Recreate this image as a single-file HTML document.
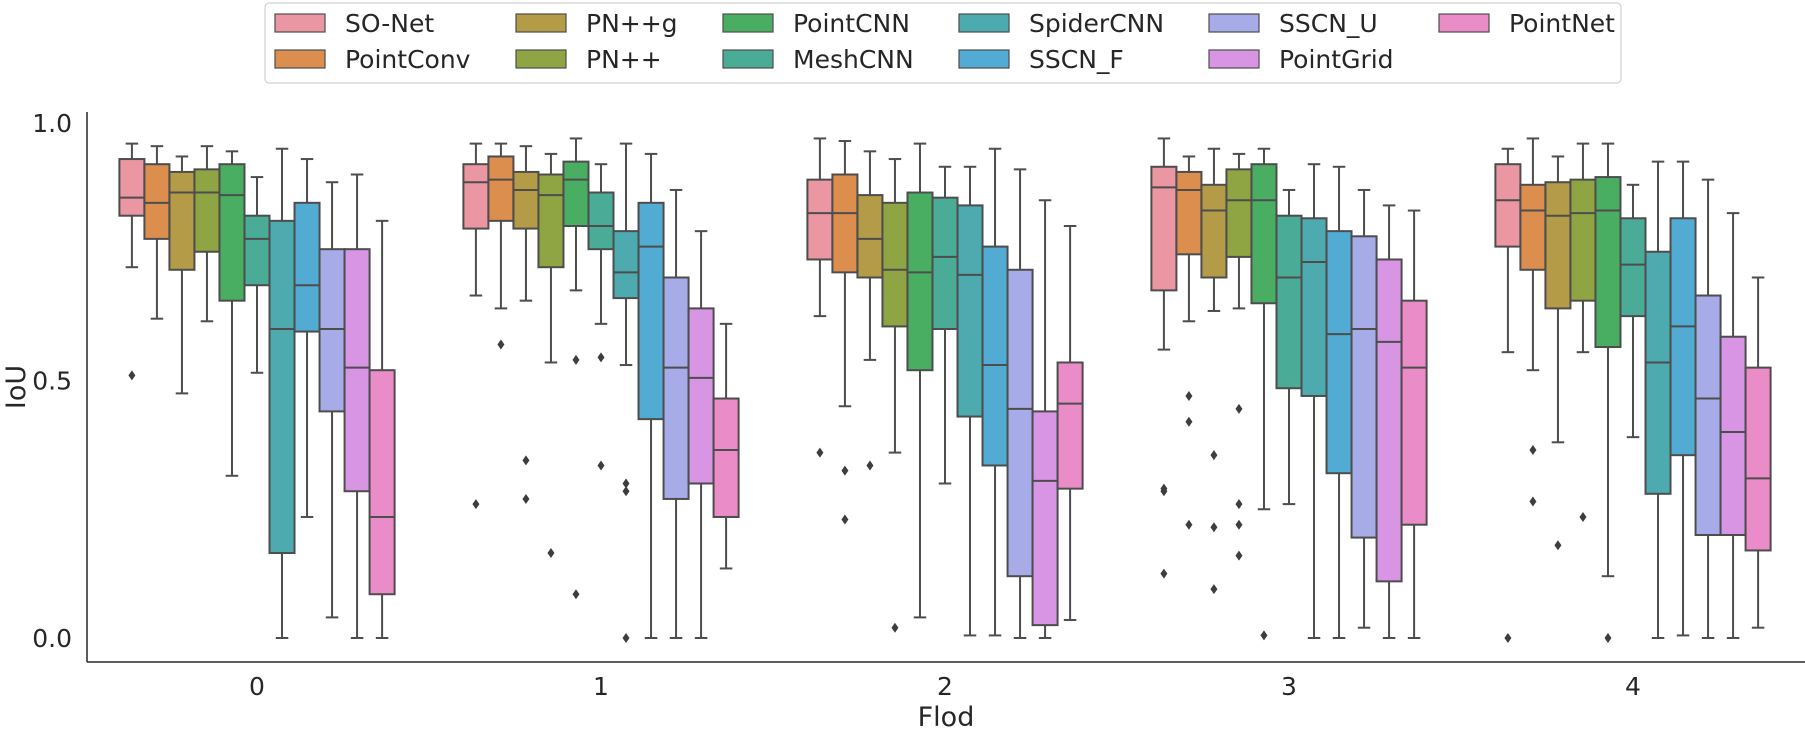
<!DOCTYPE html>
<html><head><meta charset="utf-8"><style>
html,body{margin:0;padding:0;background:#fff}
svg text{font-family:"DejaVu Sans","Liberation Sans",sans-serif;fill:#262626}
</style></head><body>
<svg id="chart" width="1805" height="730" xmlns="http://www.w3.org/2000/svg"></svg>
<script>
const models=["SO-Net","PointConv","PN++g","PN++","PointCNN","MeshCNN","SpiderCNN","SSCN_F","SSCN_U","PointGrid","PointNet"];
const colors=["#ea96a3","#dc8e4f","#b39b47","#8fa443","#4aae62","#4aab97","#4daaaf","#52abd3","#a7abe8","#d795e4","#ea8cc7"];
const folds=["0","1","2","3","4"];
const yTicks=[0,0.5,1.0];
const yTickLabels=["0.0","0.5","1.0"];
// [lo,q1,med,q3,hi]
const fold0=[[.72,.82,.855,.93,.96],[.62,.775,.845,.92,.955],[.475,.715,.865,.905,.935],[.615,.75,.865,.91,.955],[.315,.655,.86,.92,.945],[.515,.685,.775,.82,.895],[0,.165,.6,.81,.95],[.235,.595,.685,.845,.93],[.04,.44,.6,.755,.885],[0,.285,.525,.755,.9],[0,.085,.235,.52,.81]];
const fold1=[[.665,.795,.885,.92,.96],[.64,.81,.89,.935,.96],[.655,.795,.87,.905,.955],[.535,.72,.86,.9,.94],[.675,.8,.89,.925,.97],[.61,.755,.8,.865,.92],[.53,.66,.71,.79,.96],[0,.425,.76,.845,.94],[0,.27,.525,.7,.87],[0,.3,.505,.64,.79],[.135,.235,.365,.465,.61]];
const fold2=[[.625,.735,.825,.89,.97],[.45,.71,.825,.9,.965],[.54,.7,.775,.86,.945],[.36,.605,.715,.845,.93],[.04,.52,.71,.865,.96],[.3,.6,.74,.855,.915],[.005,.43,.705,.84,.915],[.005,.335,.53,.76,.95],[0,.12,.445,.715,.91],[0,.025,.305,.44,.85],[.035,.29,.455,.535,.8]];
const fold3=[[.56,.675,.875,.915,.97],[.615,.745,.87,.905,.935],[.635,.7,.83,.88,.95],[.64,.74,.85,.91,.94],[.25,.65,.85,.92,.95],[.26,.485,.7,.82,.87],[0,.47,.73,.815,.92],[0,.32,.59,.79,.915],[.02,.195,.6,.78,.87],[0,.11,.575,.735,.84],[0,.22,.525,.655,.83]];
const fold4=[[.555,.76,.85,.92,.95],[.52,.715,.83,.88,.97],[.38,.64,.82,.885,.935],[.555,.655,.825,.89,.96],[.12,.565,.83,.895,.96],[.39,.625,.725,.815,.88],[0,.28,.535,.75,.925],[.005,.355,.605,.815,.925],[0,.2,.465,.665,.89],[0,.2,.4,.585,.825],[.02,.17,.31,.525,.7]];
const out0=[[.51],[],[],[],[],[],[],[],[],[],[]];
const out1=[[.26],[.57],[.345,.27],[.165],[.54,.085],[.545,.335],[.3,.285,0],[],[],[],[]];
const out2=[[.36],[.325,.23],[.335],[.02],[],[],[],[],[],[],[]];
const out3=[[.29,.285,.125],[.47,.42,.22],[.355,.215,.095],[.445,.26,.22,.16],[.005],[],[],[],[],[],[]];
const out4=[[0],[.365,.265],[.18],[.235],[0],[],[],[],[],[],[]];
const stats=[fold0,fold1,fold2,fold3,fold4];
const outs=[out0,out1,out2,out3,out4];

const svg=document.getElementById('chart');
const NS="http://www.w3.org/2000/svg";
function mk(tag,attrs,parent){const e=document.createElementNS(NS,tag);for(const k in attrs)e.setAttribute(k,attrs[k]);(parent||svg).appendChild(e);return e;}
const X0=257,STEP=344,BW=STEP*0.8/models.length;
function yS(v){return 638-515*v;}
function xC(i){return X0+STEP*i;}
const LC="#4d4d4d";

const ax=mk('g',{});


const ys=mk('line',{x1:87,y1:112,x2:87,y2:662,stroke:"#262626","stroke-width":1.5},ax);

const xs=mk('line',{x1:87,y1:662,x2:1805,y2:662,stroke:"#262626","stroke-width":1.5},ax);

yTicks.forEach((t,i)=>{const tx=mk('text',{x:72,y:yS(t)+9,"text-anchor":"end","font-size":25},ax);tx.textContent=yTickLabels[i];
});
folds.forEach((f,i)=>{const tx=mk('text',{x:xC(i),y:695,"text-anchor":"middle","font-size":25},ax);tx.textContent=f;
});
const xt=mk('text',{x:946,y:726,"text-anchor":"middle","font-size":27},ax);xt.textContent="Flod";

const yt=mk('text',{x:0,y:0,"text-anchor":"middle","font-size":27,transform:"translate(25,387) rotate(-90)"},ax);yt.textContent="IoU";


stats.forEach((fold,fi)=>{
  fold.forEach((s,mi)=>{
    const g=mk('g',{});
    
    
    const x=xC(fi)-STEP*0.4+BW*mi, cx=x+BW/2;
    mk('line',{x1:cx,x2:cx,y1:yS(s[0]),y2:yS(s[1]),stroke:LC,"stroke-width":2},g);
    mk('line',{x1:cx,x2:cx,y1:yS(s[3]),y2:yS(s[4]),stroke:LC,"stroke-width":2},g);
    mk('line',{x1:cx-BW/4,x2:cx+BW/4,y1:yS(s[0]),y2:yS(s[0]),stroke:LC,"stroke-width":2},g);
    mk('line',{x1:cx-BW/4,x2:cx+BW/4,y1:yS(s[4]),y2:yS(s[4]),stroke:LC,"stroke-width":2},g);
    mk('rect',{x:x,y:yS(s[3]),width:BW,height:yS(s[1])-yS(s[3]),fill:colors[mi],stroke:LC,"stroke-width":2},g);
    mk('line',{x1:x,x2:x+BW,y1:yS(s[2]),y2:yS(s[2]),stroke:LC,"stroke-width":2},g);
    outs[fi][mi].forEach(o=>{const yy=yS(o);
      const d=mk('path',{d:`M${cx} ${yy-5}L${cx+3.5} ${yy}L${cx} ${yy+5}L${cx-3.5} ${yy}Z`,fill:"#3d3d3d"},g);
      });
  });
});

const lg=mk('g',{});


mk('rect',{x:265,y:3,width:1356,height:80,rx:4,fill:"#fff",stroke:"#d0d0d0","stroke-width":1.2},lg);
const colX=[275,516,723,959,1209,1439];
models.forEach((m,i)=>{
  const c=Math.floor(i/2),r=i%2;
  const e=mk('g',{},lg);
  
  
  const py=r?50:14;
  mk('rect',{x:colX[c],y:py,width:50,height:18,fill:colors[i],stroke:LC,"stroke-width":1.2},e);
  const t=mk('text',{x:colX[c]+70,y:py+18,"font-size":25},e);t.textContent=m;
});
</script>
</body></html>
